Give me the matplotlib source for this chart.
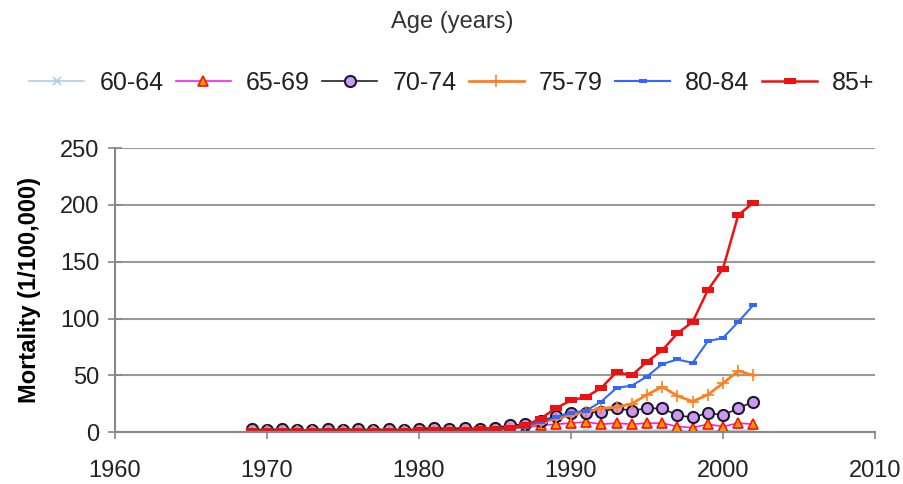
import matplotlib
matplotlib.use('Agg')
import matplotlib.pyplot as plt

plt.rcParams['font.family'] = ['Liberation Sans', 'DejaVu Sans']

years = list(range(1969, 2003))

age_60_64 = [0.5, 0.5, 0.5, 0.5, 0.5, 0.5, 0.5, 0.5, 0.5, 0.5,
             0.5, 0.5, 0.5, 0.5, 0.5, 0.5, 0.5, 1, 1, 1,
             1.5, 1.5, 1.5, 1.5, 1.5, 1.5, 1.5, 2, 1.5, 1.5,
             1.5, 1.5, 2, 1.5]
age_65_69 = [1, 1, 1, 1, 1, 1, 1, 1, 1, 1,
             1, 1, 1, 1, 1, 1, 2, 3, 4, 6,
             7, 8, 9, 7, 8, 7, 8, 8, 5, 4,
             7, 5, 8, 7]
age_70_74 = [3, 2, 3, 2, 2, 3, 2, 3, 2, 3,
             2, 3, 4, 3, 4, 3, 4, 6, 7, 10,
             14, 17, 17, 18, 21, 19, 21, 21, 15, 13,
             17, 15, 21, 27]
age_75_79 = [1, 1, 1, 1, 1, 1, 1, 1, 1, 1,
             1, 1, 1, 1, 1, 1, 2, 3, 5, 8,
             12, 15, 18, 21, 22, 25, 33, 40, 32, 27,
             33, 43, 54, 50]
age_80_84 = [1, 1, 1, 1, 1, 1, 1, 1, 1, 1,
             1, 1, 1, 1, 1, 1, 2, 3, 5, 9,
             13, 17, 19, 27, 39, 41, 49, 60, 64, 61,
             80, 83, 97, 112]
age_85 = [1, 1, 1, 1, 1, 1, 1, 1, 1, 1,
          1, 2, 2, 2, 2, 3, 3, 4, 6, 12,
          21, 28, 31, 39, 53, 50, 62, 72, 87, 97,
          125, 144, 191, 202]

# wide rectangle marker (Excel style dash)
rect = [(-1, -0.45), (1, -0.45), (1, 0.45), (-1, 0.45), (-1, -0.45)]

fig = plt.figure(figsize=(9.04, 4.84), dpi=100)
ax = fig.add_axes([0.127, 0.107, 0.841, 0.587])

ax.plot(years, age_60_64, color='#a8cff0', marker='x', markersize=6,
        markeredgewidth=1.2, linewidth=1.2, label='60-64')
ax.plot(years, age_65_69, color='#ee22ee', marker='^', markersize=7,
        markerfacecolor='#ff9900', markeredgecolor='#ff1100',
        markeredgewidth=1.2, linewidth=1.2, label='65-69')
ax.plot(years, age_70_74, color='#222222', marker='o', markersize=8,
        markerfacecolor='#cc99ee', markeredgecolor='#1a1a33',
        markeredgewidth=1.5, linewidth=1.2, label='70-74')
ax.plot(years, age_75_79, color='#ff7f1e', marker='+', markersize=9,
        markeredgewidth=1.2, linewidth=2, label='75-79')
ax.plot(years, age_80_84, color='#3366ff', marker=rect, markersize=6,
        markeredgewidth=0, linewidth=1.5, label='80-84')
ax.plot(years, age_85, color='#ee1111', marker=rect, markersize=9,
        markeredgewidth=0, linewidth=1.8, label='85+')

ax.set_xlim(1960, 2010)
ax.set_ylim(0, 250)
ax.set_xticks(range(1960, 2011, 10))
ax.set_yticks(range(0, 251, 50))
ax.yaxis.grid(True, color='#999999', linewidth=1.5)
ax.set_axisbelow(True)
for s in ['top', 'right']:
    ax.spines[s].set_visible(False)
for s in ['left', 'bottom']:
    ax.spines[s].set_color('#888888')
    ax.spines[s].set_linewidth(1.5)
ax.tick_params(axis='y', direction='inout', length=10, color='#888888',
               labelsize=17, width=1.2, pad=6)
ax.tick_params(axis='x', direction='out', length=5, color='#888888',
               labelsize=17, width=1.2, pad=15)
for lbl in ax.get_xticklabels() + ax.get_yticklabels():
    lbl.set_color('#222222')
ax.set_ylabel('Mortality (1/100,000)', fontsize=17, fontweight='bold',
              labelpad=14)

fig.text(0.5, 0.955, 'Age (years)', ha='center', va='center', fontsize=17,
         color='#333333')
fig.legend(loc='center', bbox_to_anchor=(0.5, 0.828), ncol=6, frameon=False,
           fontsize=18, handlelength=2.2, columnspacing=0.5,
           handletextpad=0.6, labelcolor='#222222')

fig.savefig('out.png', dpi=100)
